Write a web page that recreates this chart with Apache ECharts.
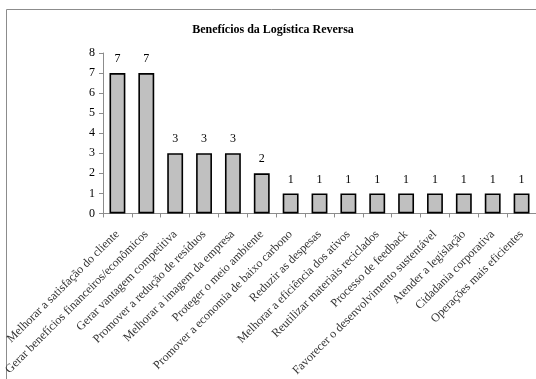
<!DOCTYPE html>
<html>
<head>
<meta charset="utf-8">
<script src="https://cdn.jsdelivr.net/npm/echarts@6/dist/echarts.min.js"></script>
<style>
  html, body { margin: 0; padding: 0; background: #fff; }
  #chart { width: 536px; height: 379px; }
</style>
</head>
<body>
<div id="chart"></div>
<script>
// Benefits of reverse logistics: number of mentions per benefit
const categories = [
  'Melhorar a satisfação do cliente',
  'Gerar benefícios financeiros/econômicos',
  'Gerar vantagem competitiva',
  'Promover a redução de resíduos',
  'Melhorar a imagem da empresa',
  'Proteger o meio ambiente',
  'Promover a economia de baixo carbono',
  'Reduzir as despesas',
  'Melhorar a eficiência dos ativos',
  'Reutilizar materiais reciclados',
  'Processo de feedback',
  'Favorecer o desenvolvimento sustentável',
  'Atender a legislação',
  'Cidadania corporativa',
  'Operações mais eficientes'
];
const counts = [7, 7, 3, 3, 3, 2, 1, 1, 1, 1, 1, 1, 1, 1, 1];
const yTicks = [0, 1, 2, 3, 4, 5, 6, 7, 8];

const serif = '"Liberation Serif", "Times New Roman", serif';
const chart = echarts.init(document.getElementById('chart'), null, { renderer: 'canvas' });

chart.setOption({
  animation: false,
  backgroundColor: '#fff',
  title: {
    text: 'Benefícios da Logística Reversa',
    left: 268,
    top: 19,
    textAlign: 'center',
    textStyle: { fontFamily: serif, fontSize: 12, fontWeight: 'bold', color: '#000' }
  },
  graphic: [{
    type: 'rect',
    shape: { x: 6.5, y: 9.5, width: 540, height: 380 },
    style: { fill: 'none', stroke: '#8c8c8c', lineWidth: 1 },
    silent: true
  }],
  grid: { left: 103, right: -6, top: 53, bottom: 165, containLabel: false },
  xAxis: {
    type: 'category',
    data: categories,
    axisLine: { lineStyle: { color: '#8c8c8c', width: 1 } },
    axisTick: { show: true, alignWithLabel: false, length: 4, lineStyle: { color: '#8c8c8c' } },
    axisLabel: {
      interval: 0,
      rotate: 45,
      margin: 19,
      fontFamily: serif,
      fontSize: 12,
      color: '#333'
    }
  },
  yAxis: {
    type: 'value',
    min: yTicks[0],
    max: yTicks[yTicks.length - 1],
    interval: 1,
    splitLine: { show: false },
    axisLine: { show: true, lineStyle: { color: '#8c8c8c', width: 1 } },
    axisTick: { show: true, length: 4, lineStyle: { color: '#8c8c8c' } },
    axisLabel: { fontFamily: serif, fontSize: 12, color: '#000', margin: 8 }
  },
  series: [{
    type: 'bar',
    data: counts,
    barWidth: '55%',
    itemStyle: { color: '#c0c0c0', borderColor: '#000', borderWidth: 1.6 },
    label: {
      show: true,
      position: 'top',
      distance: 8,
      fontFamily: serif,
      fontSize: 12,
      color: '#000'
    }
  }]
});
</script>
</body>
</html>
